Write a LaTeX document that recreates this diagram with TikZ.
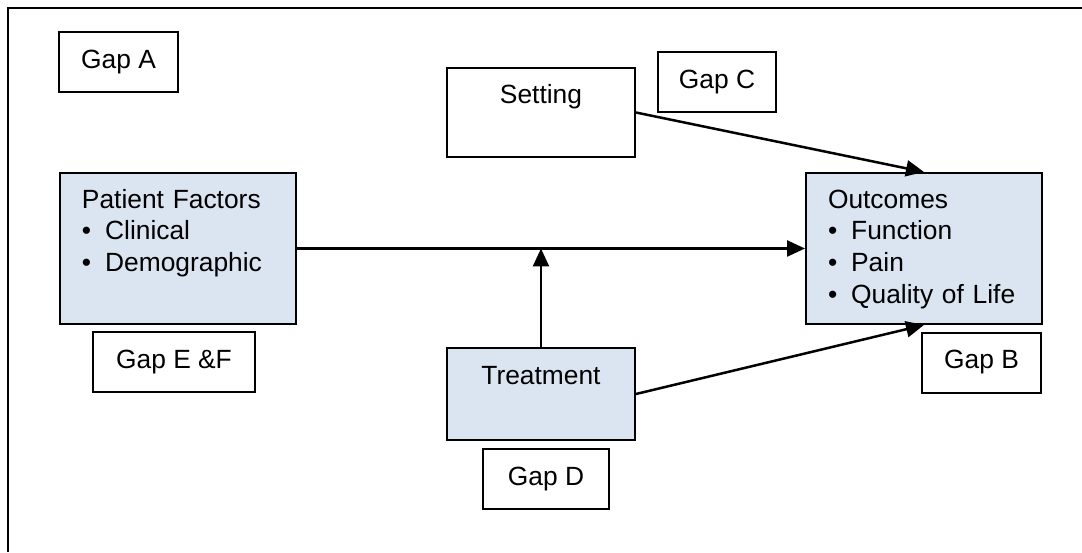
\documentclass[tikz,border=0pt]{standalone}
\usepackage{fontspec}
\setmainfont{Liberation Sans}
\usetikzlibrary{arrows.meta,
                positioning}

\definecolor{boxblue}{RGB}{219,229,241}

\newcommand{\bulitem}{\makebox[0.88em][l]{\textbullet}}

\tikzset{gap/.style =
   {rectangle,
    draw,
    line width=0.04cm,
    text centered,
    minimum height=1.2cm}}
\tikzset{factor/.style =
   {rectangle,
    draw,
    line width=0.04cm,
    fill=boxblue,
    anchor=north west,
    align=left,
    text width=3.84cm,
    inner xsep=0.44cm,
    inner ysep=0pt,
    text height=0.7cm,
    text depth=2.32cm}}
\tikzset{topbox/.style =
   {rectangle,
    draw,
    line width=0.04cm,
    anchor=north west,
    minimum width=3.76cm,
    inner sep=0pt,
    text height=0.72cm}}
\tikzset{arrow/.style = {draw, line width=0.05cm, -{Triangle[length=0.36cm,width=0.32cm]}}}

\begin{document}
\begin{tikzpicture}[x=0.02cm, y=-0.02cm,
                    font=\fontsize{15}{18.2}\selectfont]

    \useasboundingbox (0,0) rectangle (1082,552);
    \draw [line width=0.055cm] (1082,8) -- (8,8) -- (8,552);

    \node [factor] (patient) at (59,172)
          {Patient Factors\\ \bulitem Clinical\\ \bulitem Demographic};

    \node [factor] (outcomes) at (805,172)
          {Outcomes\\ \bulitem Function\\ \bulitem Pain\\ \bulitem Quality of Life};

    \node [topbox,
           text depth=1.06cm] (setting) at (446,67) {Setting};

    \node [topbox,
           fill=boxblue,
           text depth=1.12cm] (treatment) at (446,347) {Treatment};

    \node [gap, minimum width=2.38cm] (gapA) at (118.5,62) {Gap A};
    \node [gap, minimum width=2.36cm] (gapC) at (717,82) {Gap C};
    \node [gap, minimum width=3.24cm] (gapEF) at (174,362) {Gap E \&F};
    \node [gap, minimum width=2.38cm] (gapB) at (981.5,362.5) {Gap B};
    \node [gap, minimum width=2.52cm] (gapD) at (546,479) {Gap D};

    \coordinate (join) at (treatment.north |- patient.east);

    \path [arrow] (patient.east) -- (outcomes.west);
    \path [arrow] (treatment.north) -- (join);
    \path [arrow] (setting.east) -- (outcomes.north);
    \path [arrow] (treatment.east) -- (outcomes.south);

\end{tikzpicture}
\end{document}
